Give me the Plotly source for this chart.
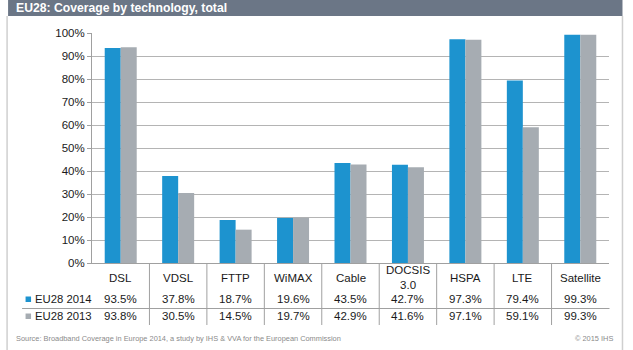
import plotly.graph_objects as go

# ---- data ----
categories = ["DSL", "VDSL", "FTTP", "WiMAX", "Cable", "DOCSIS 3.0", "HSPA", "LTE", "Satellite"]
cat_labels = ["DSL", "VDSL", "FTTP", "WiMAX", "Cable", "DOCSIS<br>3.0", "HSPA", "LTE", "Satellite"]
eu28_2014 = [93.5, 37.8, 18.7, 19.6, 43.5, 42.7, 97.3, 79.4, 99.3]
eu28_2013 = [93.8, 30.5, 14.5, 19.7, 42.9, 41.6, 97.1, 59.1, 99.3]
series_names = ["EU28 2014", "EU28 2013"]
title_text = "EU28: Coverage by technology, total"
source_text = "Source: Broadband Coverage in Europe 2014, a study by IHS &amp; VVA for the European Commission"
copyright_text = "© 2015 IHS"

# ---- style ----
W, H = 633, 350
L, R, T, B = 92, 23.5, 33, 87
PW, PH = W - L - R, H - T - B
BLUE = "#1d93cf"
GREY = "#a6acb2"
FONT = "Liberation Sans, Arial, sans-serif"
TXT = "#1a1a1a"


def px(x):
    return (x - L) / PW


def py(y):
    return (H - B - y) / PH


fig = go.Figure()
fig.add_trace(go.Bar(x=categories, y=[v / 100 for v in eu28_2014], name=series_names[0],
                     marker=dict(color=BLUE, line=dict(width=0))))
fig.add_trace(go.Bar(x=categories, y=[v / 100 for v in eu28_2013], name=series_names[1],
                     marker=dict(color=GREY, line=dict(width=0))))

shapes = []
annotations = []

# title bar & panel borders
shapes.append(dict(type="rect", xref="paper", yref="paper", x0=px(8), x1=px(623), y0=py(0), y1=py(16),
                   fillcolor="#6b7686", line=dict(width=0), layer="below"))
for xb in (7, 623):
    shapes.append(dict(type="line", xref="paper", yref="paper", x0=px(xb), x1=px(xb), y0=py(16), y1=py(352),
                       line=dict(color="#cfcfcf", width=1.5)))
annotations.append(dict(text="<b>" + title_text + "</b>", xref="paper", yref="paper", x=px(14), y=py(8),
                        xanchor="left", yanchor="middle", showarrow=False,
                        font=dict(family=FONT, size=12.2, color="white")))

# category separators in table
n = len(categories)
for i in range(n - 1):
    shapes.append(dict(type="line", xref="x", yref="paper", x0=i + 0.5, x1=i + 0.5, y0=0, y1=py(325),
                       line=dict(color="#a0a0a0", width=1)))
# row separator
shapes.append(dict(type="line", xref="paper", yref="paper", x0=px(22), x1=px(610), y0=py(308.5), y1=py(308.5),
                   line=dict(color="#a0a0a0", width=1)))

# category labels
for c, lab in zip(categories, cat_labels):
    annotations.append(dict(text=lab, x=c, xref="x", yref="paper", y=py(277.5), yanchor="middle",
                            showarrow=False, font=dict(family=FONT, size=11.5, color=TXT)))

# value rows
rows = [(eu28_2014, series_names[0], BLUE, 299), (eu28_2013, series_names[1], GREY, 316)]
for vals, name, col, yy in rows:
    for c, v in zip(categories, vals):
        annotations.append(dict(text=f"{v:.1f}%", x=c, xref="x", yref="paper", y=py(yy), yanchor="middle",
                                showarrow=False, font=dict(family=FONT, size=11.5, color=TXT)))
    shapes.append(dict(type="rect", xref="paper", yref="paper", x0=px(25.5), x1=px(31), y0=py(yy - 2.5),
                       y1=py(yy + 3), fillcolor=col, line=dict(width=0)))
    annotations.append(dict(text=name, xref="paper", yref="paper", x=px(32.5), y=py(yy), xanchor="left",
                            yanchor="middle", showarrow=False, font=dict(family=FONT, size=11.3, color=TXT)))

# source & copyright
annotations.append(dict(text=source_text, xref="paper", yref="paper", x=px(14), y=py(338), xanchor="left",
                        yanchor="middle", showarrow=False, font=dict(family=FONT, size=7.4, color="#8a8a8a")))
annotations.append(dict(text=copyright_text, xref="paper", yref="paper", x=px(616), y=py(338), xanchor="right",
                        yanchor="middle", showarrow=False, font=dict(family=FONT, size=7.4, color="#8a8a8a")))

fig.update_layout(
    width=W, height=H,
    margin=dict(l=L, r=R, t=T, b=B, autoexpand=False),
    paper_bgcolor="white", plot_bgcolor="white",
    barmode="group", bargap=0.443, bargroupgap=0,
    showlegend=False,
    shapes=shapes, annotations=annotations,
    font=dict(family=FONT, color=TXT),
)
fig.update_xaxes(type="category", range=[-0.5, n - 0.5], showticklabels=False, showgrid=False,
                 showline=True, linecolor="#a0a0a0", linewidth=1, ticks="", zeroline=False)
fig.update_yaxes(range=[0, 1.0005], dtick=0.1, tick0=0, tickformat=".0%", showgrid=True, gridcolor="#b4b4b4",
                 gridwidth=1, showline=True, linecolor="#a0a0a0", linewidth=1, ticks="outside", ticklen=4,
                 tickcolor="#a0a0a0", tickfont=dict(family=FONT, size=11.5, color=TXT), zeroline=False)

fig.write_html("out.html")
